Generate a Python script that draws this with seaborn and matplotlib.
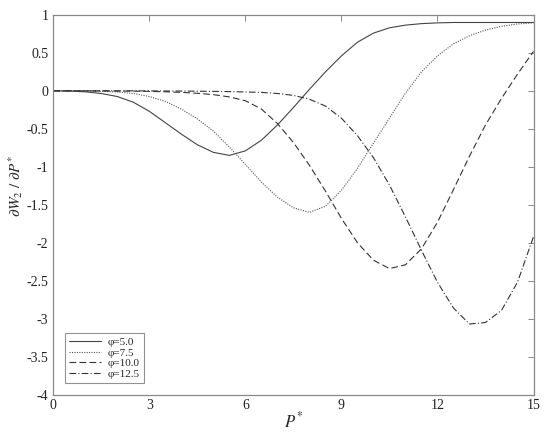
import numpy as np
import pandas as pd
import seaborn as sns
from matplotlib import pyplot as plt

# P* 取值 (每 0.5 读一个点)
p_star = [0, 0.5, 1, 1.5, 2, 2.5, 3, 3.5, 4, 4.5, 5, 5.5, 6, 6.5, 7, 7.5,
          8, 8.5, 9, 9.5, 10, 10.5, 11, 11.5, 12, 12.5, 13, 13.5, 14, 14.5, 15]

# 各 φ 曲线的 ∂W2/∂P*
phi_5_0 = [0, -0.003, -0.013, -0.035, -0.075, -0.15, -0.27, -0.42, -0.57, -0.71,
           -0.81, -0.85, -0.79, -0.65, -0.45, -0.22, 0.02, 0.25, 0.46, 0.64,
           0.76, 0.83, 0.865, 0.885, 0.895, 0.9, 0.9, 0.9, 0.9, 0.9, 0.9]
phi_7_5 = [0, 0, -0.002, -0.006, -0.015, -0.035, -0.075, -0.14, -0.24, -0.37,
           -0.53, -0.74, -0.97, -1.20, -1.40, -1.54, -1.60, -1.52, -1.31, -1.02,
           -0.69, -0.36, -0.03, 0.25, 0.46, 0.62, 0.725, 0.80, 0.85, 0.88, 0.895]
phi_10_0 = [0, 0, 0, -0.001, -0.002, -0.004, -0.007, -0.012, -0.02, -0.032,
            -0.05, -0.08, -0.13, -0.24, -0.43, -0.68, -0.98, -1.32, -1.68, -2.00,
            -2.23, -2.34, -2.29, -2.08, -1.73, -1.30, -0.86, -0.45, -0.10, 0.22, 0.52]
phi_12_5 = [0, 0, 0, 0, 0, 0, -0.001, -0.002, -0.003, -0.005,
            -0.007, -0.01, -0.015, -0.02, -0.035, -0.06, -0.11, -0.20, -0.36, -0.59,
            -0.88, -1.24, -1.66, -2.10, -2.52, -2.86, -3.07, -3.05, -2.89, -2.52, -1.92]

labels = ['φ=5.0', 'φ=7.5', 'φ=10.0', 'φ=12.5']
x_ticks = [0, 3, 6, 9, 12, 15]
y_ticks = [1, 0.5, 0, -0.5, -1, -1.5, -2, -2.5, -3, -3.5, -4]

sns.set_style('white')
plt.rcParams['font.family'] = ['Liberation Serif', 'DejaVu Serif']
plt.rcParams['mathtext.fontset'] = 'stix'

fig = plt.figure(figsize=(5.5, 4.38), dpi=100)
ax = fig.add_axes([0.097, 0.099, 0.873, 0.867])

styles = [
    dict(color='#444444', linestyle='-'),
    dict(color='#555555', linestyle=(0, (1, 1.2))),
    dict(color='#333333', linestyle=(0, (6, 3))),
    dict(color='#333333', linestyle=(0, (6, 2, 1, 2))),
]
series = [phi_5_0, phi_7_5, phi_10_0, phi_12_5]
for vals, lab, st in zip(series, labels, styles):
    sns.lineplot(x=p_star, y=vals, ax=ax, label=lab, linewidth=0.8, **st)

ax.set_xlim(0, 15)
ax.set_ylim(-4, 1)
ax.set_xticks(x_ticks)
ax.set_yticks(y_ticks)
ax.set_yticklabels([('%g' % v) for v in y_ticks])
ax.tick_params(direction='in', top=True, right=True, length=4, width=0.6,
               color='#777777', labelsize=10, labelcolor='#222222')
for s in ax.spines.values():
    s.set_color('#888888')
    s.set_linewidth(0.9)

ax.set_xlabel(r'$P^{*}$', fontsize=12, labelpad=-1)
ax.set_ylabel(r'$\partial W_2\ /\ \partial P^{*}$', fontsize=11)
ax.yaxis.set_label_coords(-0.06, 0.55)

leg = ax.legend(loc='lower left', bbox_to_anchor=(0.024, 0.031), fontsize=8,
                frameon=True, fancybox=False, handlelength=2.9, handletextpad=0.6,
                borderpad=0.35, labelspacing=0.08, borderaxespad=0)
leg.get_frame().set_edgecolor('#777777')
leg.get_frame().set_linewidth(0.8)

plt.savefig('out.png', dpi=100)
